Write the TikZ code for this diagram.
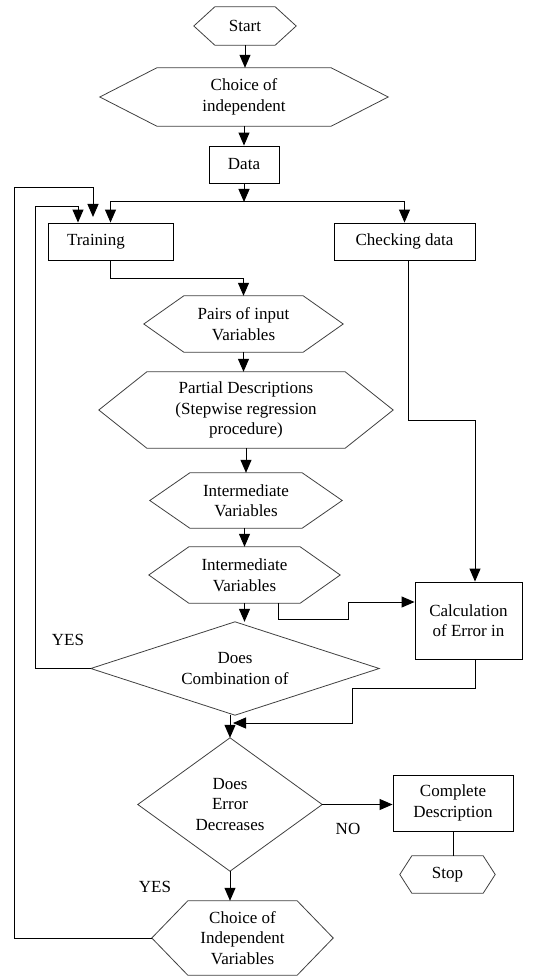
\documentclass[tikz,border=0pt]{standalone}
\usepackage{fontspec}
\setmainfont{Liberation Serif}
\usetikzlibrary{arrows.meta,calc}
\newcommand\myhex[2]{\draw[shapeline] (#1.west) -- ([xshift=#2pt]#1.north west) -- ([xshift=-#2pt]#1.north east) -- (#1.east) -- ([xshift=-#2pt]#1.south east) -- ([xshift=#2pt]#1.south west) -- cycle;}
\newcommand\mydiam[1]{\draw[shapeline] (#1.west) -- (#1.north) -- (#1.east) -- (#1.south) -- cycle;}
\begin{document}
\begin{tikzpicture}[x=1pt,y=-1pt,
  every node/.style={font=\fontsize{17}{20.5}\selectfont, inner sep=0pt, align=center},
  box/.style={draw=black, line width=0.9pt},
  hexn/.style={draw=none},
  shapeline/.style={draw=black!75, line width=0.8pt},
  conn/.style={line width=1pt, -{Triangle[length=13pt,width=11pt]}},
  plain/.style={line width=1pt}]
\useasboundingbox (0,0) rectangle (536,976);

\node[hexn, minimum width=102pt, minimum height=38pt] (start) at (245,26) {Start};
\myhex{start}{21}
\node[hexn, minimum width=288pt, minimum height=58pt] (choice) at (244,97) {Choice of\\independent};
\myhex{choice}{57}
\node[box, minimum width=70pt, minimum height=37pt] (data) at (244,164.5) {Data};
\node[box, minimum width=125pt, minimum height=37pt, text width=87pt, inner xsep=19pt, align=left] (training) at (110.5,241.5) {Training};
\node[box, minimum width=141pt, minimum height=37pt] (checking) at (404.5,241.5) {Checking data};
\node[hexn, minimum width=199pt, minimum height=56pt] (pairs) at (243.5,324) {Pairs of input\\Variables};
\myhex{pairs}{40}
\node[hexn, minimum width=294pt, minimum height=76pt] (partial) at (246,410) {Partial Descriptions\\(Stepwise regression\\procedure)};
\myhex{partial}{48}
\node[hexn, minimum width=192pt, minimum height=55pt] (inter1) at (246,500.5) {Intermediate\\Variables};
\myhex{inter1}{40}
\node[hexn, minimum width=191pt, minimum height=56pt] (inter2) at (244.5,575) {Intermediate\\Variables};
\myhex{inter2}{40}
\node[box, minimum width=107pt, minimum height=77pt] (calc) at (468.5,620.5) {Calculation\\of Error in};
\node[hexn, minimum width=288pt, minimum height=93pt] (diam1) at (235,668.5) {Does\\Combination of};
\mydiam{diam1}
\node[hexn, minimum width=184pt, minimum height=133pt] (diam2) at (230,804.5) {Does\\Error\\Decreases};
\mydiam{diam2}
\node[box, minimum width=120pt, minimum height=56pt] (complete) at (453,803) {Complete\\Description};
\node[hexn, minimum width=95pt, minimum height=37pt] (stop) at (447.5,874.5) {Stop};
\myhex{stop}{12}
\node[hexn, minimum width=181pt, minimum height=74pt] (choice2) at (242.5,938) {Choice of\\Independent\\Variables};
\myhex{choice2}{36}

\node (yes1) at (68,640) {YES};
\node (no) at (348,829) {NO};
\node (yes2) at (155,887) {YES};

\coordinate (split) at (244,202);
\coordinate (outA) at (14,188);
\coordinate (outEnd) at (93,217);
\coordinate (inA) at (35,207);
\coordinate (j2) at (233,723);

\draw[conn] (start.south) -- (start.south |- choice.north);
\draw[conn] (choice.south) -- (data.north);
\draw[conn] (data.south) -- (split);
\draw[conn] (split) -| (training.north);
\draw[conn] (split) -| (checking.north);
\draw[conn] (choice2.west) -| (outA) -| (outEnd);
\draw[conn] (diam1.west) -| (inA) -| ([xshift=-32.5pt]training.north);
\draw[conn] (training.south) -- ++(0,18) -| (pairs.north);
\draw[conn] (pairs.south) -- (pairs.south |- partial.north);
\draw[conn] (partial.south -| inter1.north) -- (inter1.north);
\draw[conn] (inter1.south -| inter2.north) -- (inter2.north);
\draw[conn] (inter2.south) -- (inter2.south |- diam1.north);
\draw[conn] ([xshift=33.5pt]inter2.south) -- ++(0,16) -- ++(70,0) |- ([yshift=18.5pt]calc.west);
\draw[conn] ([xshift=3.5pt]checking.south) -- ++(0,160) -| ([xshift=6.5pt]calc.north);
\draw[conn] ([xshift=6.5pt]calc.south) -- ++(0,29) -- ++(-123,0) |- (j2);
\draw[conn] (diam2.north |- diam1.south) -- (diam2.north);
\draw[conn] (diam2.east) -- (diam2.east -| complete.west);
\draw[plain] (complete.south) -- (complete.south |- stop.north);
\draw[conn] (diam2.south) -- (diam2.south |- choice2.north);
\end{tikzpicture}
\end{document}
